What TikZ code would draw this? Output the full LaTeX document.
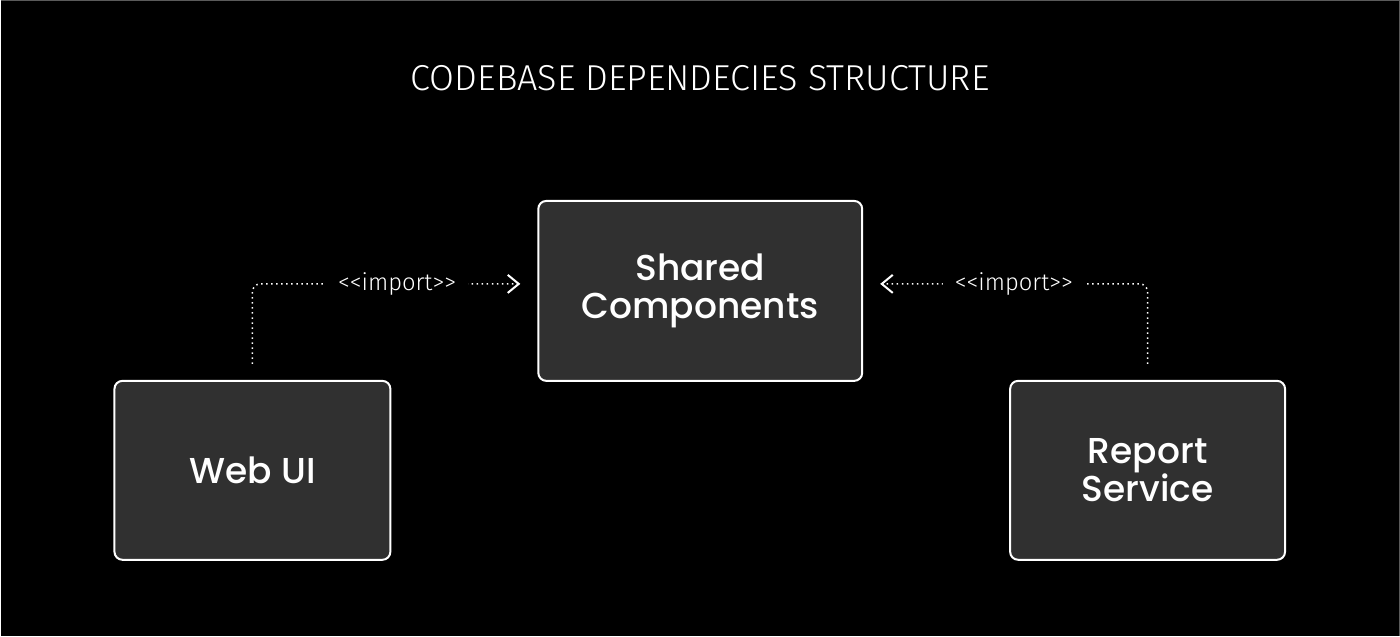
\documentclass[tikz,border=0pt]{standalone}
\usepackage{fontspec}
\setmainfont{Poppins}
\newfontfamily\boxfont{Poppins Medium}
\newfontfamily\thinfont{Fira Sans Light}
\usetikzlibrary{arrows.meta}
\definecolor{boxgrey}{HTML}{303030}
\definecolor{edgegrey}{HTML}{5A5A5A}

\begin{document}
\begin{tikzpicture}[
  box/.style={draw=white, line width=0.04cm, fill=boxgrey, rounded corners=0.16cm,
    text=white, align=center, font=\boxfont\fontsize{20.5}{21.5}\selectfont},
  imp/.style={white, dotted, line width=0.03cm, rounded corners=0.16cm,
    -{Straight Barb[length=0.22cm,width=0.36cm,line width=0.04cm]}},
  lbl/.style={fill=black, text=white, inner xsep=0.24cm, font=\thinfont\fontsize{13.5}{15}\selectfont}
]
    \fill[black] (0,0) rectangle (28,12.72);
    \draw[edgegrey, line width=0.02cm] (0,12.71) -- (27.99,12.71) -- (27.99,0);
    \node[text=white, font=\thinfont\fontsize{20.5}{24}\selectfont] (title) at (14,11.16) {CODEBASE DEPENDECIES STRUCTURE};

    \node[box, minimum width=6.48cm, minimum height=3.6cm] (shared) at (14,6.90) {Shared\\Components};
    \node[box, minimum width=5.52cm, minimum height=3.58cm] (web) at (5.04,3.31) {Web UI};
    \node[box, minimum width=5.5cm, minimum height=3.58cm] (report) at (22.95,3.31) {Report\\Service};

    \draw[imp] ([yshift=0.32cm]web.north) |- ([xshift=-0.34cm,yshift=0.14cm]shared.west)
        node[lbl, pos=0.77] {<\kern0pt<import>\kern0pt>};
    \draw[imp] ([yshift=0.32cm]report.north) |- ([xshift=0.34cm,yshift=0.14cm]shared.east)
        node[lbl, pos=0.75] {<\kern0pt<import>\kern0pt>};
\end{tikzpicture}
\end{document}
